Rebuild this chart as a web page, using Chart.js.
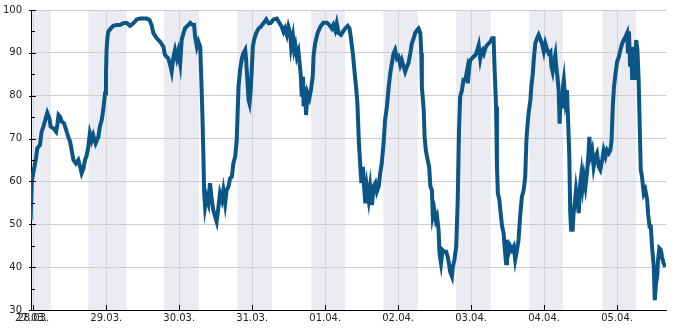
<!DOCTYPE html>
<html><head><meta charset="utf-8">
<script src="https://cdn.jsdelivr.net/npm/chart.js@4"></script>
<style>html,body{margin:0;padding:0;background:#fff;}#wrap{width:685px;height:330px;position:relative;}</style>
</head><body><div id="wrap"><canvas id="c" width="685" height="330"></canvas></div>
<script>
// hours since 28.03. 00:00
const hours = [
-0.9,-0.5,0,0.9,1.3,2.2,2.7,3.3,3.8,4.6,
5.3,5.7,6.6,7.5,7.9,8.3,8.8,9.3,10.1,10.8,
11.5,12.1,12.6,13.2,14.0,14.8,15.4,15.9,16.5,17.0,
17.6,18.1,18.6,19.2,19.7,20.5,21.4,21.9,22.5,23.0,
23.6,23.9,24.1,24.4,24.7,25.5,26.3,27.4,28.5,29.6,
30.7,31.8,32.9,34.0,35.1,37.3,38.2,38.9,39.5,40.6,
41.7,42.8,43.3,44.4,45.0,45.5,46.1,46.6,47.2,47.7,
48.3,48.8,49.4,49.9,51.0,51.6,52.4,52.9,53.2,53.8,
54.3,54.9,55.2,55.6,55.9,56.2,56.5,57.0,57.6,58.1,
58.7,59.2,59.8,60.3,60.9,61.4,62.0,62.5,63.1,63.6,
64.2,64.7,
65.3,65.8,66.4,66.9,67.2,67.5,68.0,68.6,69.1,69.7,
70.0,70.4,70.8,71.1,71.5,71.9,72.2,72.6,73.3,74.1,
74.8,75.7,76.6,77.4,78.1,79.0,80.1,81.0,81.7,82.3,
82.8,83.4,83.9,84.5,84.8,85.4,85.8,86.2,86.7,87.2,
87.6,88.0,88.3,88.7,88.9,89.4,89.7,90.2,90.8,91.3,
91.9,92.2,92.7,93.5,94.4,95.4,96.6,97.4,98.2,98.7,
99.3,99.8,100.4,101.2,101.8,102.6,103.4,104.0,104.4,105.1,
105.6,106.2,106.6,107.1,107.5,107.9,108.4,108.8,109.2,109.7,
110.3,110.8,111.4,111.9,112.5,113.0,113.6,114.1,114.6,115.2,
115.7,116.3,116.9,117.4,118.0,118.5,119.0,119.6,120.1,120.7,
121.2,121.8,122.3,122.9,123.4,124.0,124.5,125.1,125.6,126.2,
126.7,127.3,127.6,127.8,128.4,128.7,129.1,129.7,130.2,130.6,
131.1,131.4,131.9,132.4,132.8,133.3,133.6,134.1,134.6,135.2,
135.8,136.3,136.7,137.1,137.7,138.0,138.5,139.1,139.6,140.0,
140.4,
141.0,141.5,142.1,142.6,142.9,143.4,143.7,144.3,144.8,145.4,
145.9,146.5,147.0,147.4,147.8,148.2,148.7,149.2,149.8,150.3,
150.9,151.4,151.7,152.2,152.5,152.8,153.3,153.6,154.2,154.7,
155.0,155.5,155.8,156.3,156.9,157.4,158.0,158.5,159.1,159.6,
160.2,160.7,161.3,161.8,162.2,162.4,162.9,163.5,163.8,164.3,
164.6,165.1,165.7,166.2,166.8,167.3,167.9,168.4,169.0,169.5,
170.1,170.4,170.8,171.2,171.7,172.0,172.4,172.8,173.1,173.5,
173.9,174.2,174.5,175.0,175.5,175.9,176.3,176.6,176.9,177.4,
177.7,178.3,178.5,178.9,179.4,179.9,180.3,180.7,181.1,181.6,
182.1,182.5,182.9,183.2,183.8,184.3,184.9,185.4,186.0,186.5,
187.1,187.6,188.2,188.7,189.3,189.8,190.2,190.6,191.0,191.5,
192.0,192.6,193.1,193.7,194.2,194.8,195.3,195.6,195.9,196.3,
196.6,197.0,197.5,197.8,198.3,198.7,199.1,199.5,199.8,200.2,
200.8,201.3,201.9,202.2,202.7,203.1,203.5,204.1,204.4,204.8,
205.2,205.5,205.9,206.4,206.8,207.3,207.9
];
const humidity = [
51,60,62,65.5,67.7,68.5,71.5,72.8,74,76,
74.7,72.8,72.4,71.6,73.2,75.5,75.1,74,73.6,72,
70.4,69.3,67.3,65,64.2,65,63.4,61.9,63,65,
66.2,68.1,71.2,69.6,70.8,68.9,70.4,72.8,74.3,76.7,
80.6,85.2,90.7,93.8,95,95.7,96.3,96.5,96.5,96.9,
97,96.3,96.9,97.8,98,98,97.7,96.5,94.6,93.4,
92.6,91.4,89.5,88.7,87.2,85.6,89.1,90.7,88.7,90.3,
87.6,93,94.6,95.7,96.5,97,96.5,96.5,93.8,91.4,
92.6,91.4,85.2,75.9,67.3,57.2,54.1,56.4,54.9,59.6,
55.7,53.3,51.8,50.6,54.1,57.2,55.7,58,54.9,58,
58.8,60.7,
61.1,64.2,65.8,69.6,75.9,82.1,86,88.7,89.9,90.7,
88.3,83.7,79,78.2,81.3,86.8,91.4,93,94.6,95.7,
96.1,96.9,97.8,96.9,97,97.8,98,96.9,96.1,94.9,
95.7,94.2,96.1,94.6,91.4,93.8,90.7,91.8,89.1,90.3,
87.6,84.4,79.8,84.4,77.5,82.1,75.5,80.6,79.4,81.3,
84.4,89.5,92.2,94.6,96.1,97,97,96.5,95.7,96.5,
95.3,96.9,94.6,94.2,94.9,95.7,96.3,95.7,93.8,89.9,
86,81.7,78.2,68.9,64.2,59.6,63.4,58.8,54.9,58.8,
55.7,58.8,54.5,58.8,59.6,57.6,58.8,61.9,64.2,68.9,
74.3,77.5,82.1,85.2,87.9,89.9,90.7,88.7,89.1,87.2,
88.3,86.8,85.6,86.8,87.6,89.9,92.2,93.4,94.6,95.3,
95.7,94.6,89.9,82.1,76.7,70.4,67.3,65,63.4,58.8,
58,51.8,53.3,51,51.8,48.7,43.2,40.9,44,43.6,
43.6,42.4,40.9,38.9,37.8,40.1,41.7,44.8,55.7,71.6,
79.8,
81.3,83.7,83.7,85.6,82.9,86.8,88.3,88.7,89.1,89.5,
90.3,91.8,88.7,90.3,90.7,89.9,91.1,91.8,92.2,92.6,
93.4,93.4,86.8,77.5,63.4,57.2,55.7,53.3,49.5,47.9,
44.8,40.9,46.4,43.2,44.8,44,44.8,41.7,44,46.4,
52.6,56.4,58,61.1,69.6,71.9,75.9,79,82.1,85.2,
88.3,92.2,93.4,94.2,93.1,92.2,90.3,92.2,90.7,89.9,
90.3,86.8,85.6,87.6,89.5,86.8,84.4,81.3,73.5,80.6,
77.5,82.1,83.7,79,81.3,74.3,65.8,52.6,48.7,48.7,
52.6,56.4,58,55.7,52.6,59.6,61.9,58.8,61.1,58.8,
61.9,65.4,70.4,65.8,67.3,63.4,65.8,66.6,63.4,62.7,
65,67.3,65.8,67.3,66.6,67.3,69.6,77.5,82.1,85.2,
87.9,89.1,90.7,92.2,93,93.8,94.6,89.9,95,86.8,
91.4,83.7,91.4,83.7,93,90.7,83.7,71.6,62.7,61.1,
57.2,58,55.7,52.6,49.5,49.5,44.8,40.1,32.3,36.2,
37.8,41.7,44.4,44,42.4,40.9,40.1
];
const dayTicks = [0,24,48,72,96,120,144,168,192];
const dayLabels = ['28.03.','29.03.','30.03.','31.03.','01.04.','02.04.','03.04.','04.04.','05.04.'];
const startLabel = '27.03.';
const xMin = -0.76, xMax = 208.1;
const yMin = 30, yMax = 100, yStep = 5, yLabelStep = 10;
const nightStart = [-6, 18.1, 43.0, 67.1, 91.4, 115.1, 139.1, 163.1, 187.2];
const nightEnd   = [5.8, 30.7, 54.5, 78.5, 102.6, 126.5, 150.5, 174.2, 198.3];

const FONT = {family:'"DejaVu Sans", sans-serif', size:10};
const TXT = '#222';
const CLEAR = 'rgba(0,0,0,0)';

const decor = {
  id:'decor',
  beforeDraw(chart){
    const {ctx, chartArea:a, scales:{x}} = chart;
    ctx.save();
    ctx.beginPath(); ctx.rect(a.left, a.top, a.right-a.left, a.bottom-a.top); ctx.clip();
    ctx.fillStyle = '#ebecf2';
    nightStart.forEach((s,i)=>{
      const x0 = x.getPixelForValue(s), x1 = x.getPixelForValue(nightEnd[i]);
      ctx.fillRect(x0, a.top, x1-x0, a.bottom-a.top);
    });
    ctx.restore();
  },
  afterDraw(chart){
    const {ctx, chartArea:a, scales:{x,y}} = chart;
    ctx.save(); ctx.strokeStyle = '#000'; ctx.lineWidth = 1;
    y.ticks.forEach(t=>{
      const py = Math.round(y.getPixelForValue(t.value)) + 0.5;
      const major = t.value % yLabelStep === 0;
      ctx.beginPath(); ctx.moveTo(a.left - (major?2:0), py); ctx.lineTo(a.left + (major?5:4), py); ctx.stroke();
    });
    dayTicks.forEach(v=>{
      const px = Math.round(x.getPixelForValue(v)) + 0.5;
      ctx.beginPath(); ctx.moveTo(px, a.bottom + 1); ctx.lineTo(px, a.bottom - 5); ctx.stroke();
    });
    ctx.restore();
  }
};

new Chart(document.getElementById('c'), {
  type:'line',
  data:{datasets:[{
    data: hours.map((h,i)=>({x:h, y:humidity[i]})),
    borderColor:'#0b5687', borderWidth:4, pointRadius:0, tension:0, fill:false,
    borderJoinStyle:'miter'
  }]},
  options:{
    responsive:false, animation:false,
    layout:{padding:{top:10, right:19, left:0, bottom:0}},
    plugins:{legend:{display:false}, tooltip:{enabled:false}},
    scales:{
      x:{
        type:'linear', min:xMin, max:xMax,
        afterBuildTicks(scale){ scale.ticks = [{value:xMin}].concat(dayTicks.map(v=>({value:v}))); },
        afterFit(scale){ scale.height = 20; },
        ticks:{
          autoSkip:false, maxRotation:0, padding:2, color:TXT, font:FONT,
          callback(v){ if (v === xMin) return startLabel; const i = dayTicks.indexOf(v); return i >= 0 ? dayLabels[i] : ''; }
        },
        grid:{drawTicks:false, color:(c)=> (c.tick && c.tick.value === xMin) ? CLEAR : '#d4d4d4', lineWidth:1},
        border:{display:true, color:'#000', width:1}
      },
      y:{
        type:'linear', min:yMin, max:yMax,
        afterFit(scale){ scale.width = 31; },
        ticks:{
          stepSize:yStep, autoSkip:false, padding:0, color:TXT, font:FONT,
          callback(v){ return v % yLabelStep === 0 ? String(v) : ''; }
        },
        grid:{drawTicks:true, tickLength:9, tickColor:CLEAR,
              color:(c)=> (c.tick && c.tick.value % yLabelStep === 0) ? '#cccccc' : CLEAR, lineWidth:1},
        border:{display:true, color:'#000', width:1}
      }
    }
  },
  plugins:[decor]
});
</script></body></html>
